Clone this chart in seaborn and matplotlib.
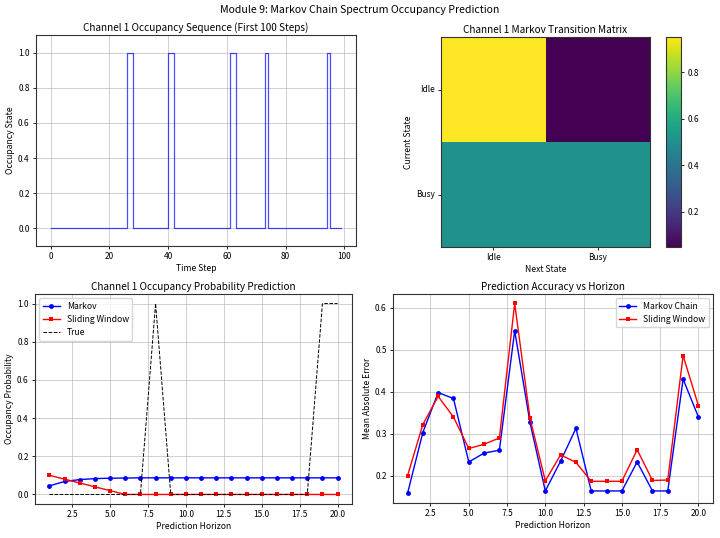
import numpy as np
import pandas as pd
import matplotlib
matplotlib.use('Agg')
import matplotlib.pyplot as plt
import seaborn as sns

# Datos
busy_steps = [26, 27, 40, 41, 61, 62, 73, 94]
time_steps = list(range(100))
occupancy = [1 if t in busy_steps else 0 for t in time_steps]

states = ['Idle', 'Busy']
trans_idle = [0.95, 0.05]
trans_busy = [0.50, 0.50]

horizon = list(range(1, 21))
prob_markov = [0.045, 0.068, 0.078, 0.083, 0.085, 0.086, 0.087, 0.087, 0.087, 0.087,
               0.087, 0.087, 0.087, 0.087, 0.087, 0.087, 0.087, 0.087, 0.087, 0.087]
prob_window = [0.10, 0.08, 0.06, 0.04, 0.02, 0.0, 0.0, 0.0, 0.0, 0.0,
               0.0, 0.0, 0.0, 0.0, 0.0, 0.0, 0.0, 0.0, 0.0, 0.0]
prob_true = [0, 0, 0, 0, 0, 0, 0, 1, 0, 0, 0, 0, 0, 0, 0, 0, 0, 0, 1, 1]

mae_markov = [0.158, 0.303, 0.398, 0.384, 0.233, 0.254, 0.261, 0.545, 0.327, 0.164,
              0.235, 0.313, 0.164, 0.164, 0.164, 0.233, 0.164, 0.164, 0.430, 0.340]
mae_window = [0.200, 0.322, 0.389, 0.340, 0.265, 0.275, 0.290, 0.610, 0.337, 0.188,
              0.250, 0.232, 0.187, 0.187, 0.187, 0.262, 0.189, 0.190, 0.486, 0.367]

plt.rcParams['font.family'] = ['Noto Sans CJK SC', 'DejaVu Sans']
plt.rcParams['font.size'] = 6.2
plt.rcParams['axes.titlesize'] = 7.2
plt.rcParams['axes.labelsize'] = 6.2
plt.rcParams['xtick.labelsize'] = 6
plt.rcParams['ytick.labelsize'] = 6
plt.rcParams['legend.fontsize'] = 6.2
plt.rcParams['axes.edgecolor'] = '#333333'
plt.rcParams['axes.linewidth'] = 0.8
plt.rcParams['xtick.major.size'] = 2.5
plt.rcParams['ytick.major.size'] = 2.5
plt.rcParams['xtick.major.width'] = 0.6
plt.rcParams['ytick.major.width'] = 0.6
plt.rcParams['xtick.major.pad'] = 2
plt.rcParams['ytick.major.pad'] = 2
plt.rcParams['axes.labelpad'] = 2
plt.rcParams['axes.titlepad'] = 3
plt.rcParams['grid.linewidth'] = 0.7

fig = plt.figure(figsize=(7.2, 5.38), dpi=100)
fig.suptitle('Module 9: Markov Chain Spectrum Occupancy Prediction', fontsize=7.6, y=0.99)

# Secuencia de ocupacion
ax1 = fig.add_axes([0.05, 0.5428, 0.4444, 0.3922])
sns.lineplot(x=time_steps, y=occupancy, ax=ax1, color='blue', alpha=0.7,
             linewidth=0.9, drawstyle='steps-post')
ax1.set_ylim(-0.1, 1.1)
ax1.set_title('Channel 1 Occupancy Sequence (First 100 Steps)')
ax1.set_xlabel('Time Step')
ax1.set_ylabel('Occupancy State')
ax1.grid(True, alpha=0.6)

# Matriz de transicion
ax2 = fig.add_axes([0.6125, 0.5409, 0.2903, 0.3903])
cax = fig.add_axes([0.925, 0.5409, 0.0208, 0.3903])
matriz = pd.DataFrame([trans_idle, trans_busy], index=states, columns=states)
sns.heatmap(matriz, ax=ax2, cbar_ax=cax, cmap='viridis', annot=False)
for sp in ax2.spines.values():
    sp.set_visible(True)
cbar = ax2.collections[0].colorbar
cbar.outline.set_visible(True)
cbar.outline.set_linewidth(0.8)
cbar.set_ticks([0.2, 0.4, 0.6, 0.8])
cbar.ax.tick_params(labelsize=6, length=2.5, width=0.6)
ax2.tick_params(axis='y', rotation=0)
ax2.set_title('Channel 1 Markov Transition Matrix')
ax2.set_xlabel('Next State')
ax2.set_ylabel('Current State')

# Prediccion de probabilidad
ax3 = fig.add_axes([0.0486, 0.0632, 0.4403, 0.3903])
sns.lineplot(x=horizon, y=prob_markov, ax=ax3, color='blue', marker='o',
             markersize=3.5, markeredgewidth=0, linewidth=1, label='Markov')
sns.lineplot(x=horizon, y=prob_window, ax=ax3, color='red', marker='s',
             markersize=3.5, markeredgewidth=0, linewidth=1, label='Sliding Window')
sns.lineplot(x=horizon, y=prob_true, ax=ax3, color='black', linestyle='--',
             linewidth=0.7, label='True')
ax3.set_title('Channel 1 Occupancy Probability Prediction')
ax3.set_xlabel('Prediction Horizon')
ax3.set_ylabel('Occupancy Probability')
ax3.legend(loc='upper left')
ax3.grid(True, alpha=0.6)

# Error vs horizonte
ax4 = fig.add_axes([0.5458, 0.0651, 0.4444, 0.3885])
sns.lineplot(x=horizon, y=mae_markov, ax=ax4, color='blue', marker='o',
             markersize=3.5, markeredgewidth=0, linewidth=1, label='Markov Chain')
sns.lineplot(x=horizon, y=mae_window, ax=ax4, color='red', marker='s',
             markersize=3.5, markeredgewidth=0, linewidth=1, label='Sliding Window')
ax4.set_title('Prediction Accuracy vs Horizon')
ax4.set_xlabel('Prediction Horizon')
ax4.set_ylabel('Mean Absolute Error')
ax4.legend(loc='upper right')
ax4.grid(True, alpha=0.6)

fig.savefig('out.png', dpi=100)
